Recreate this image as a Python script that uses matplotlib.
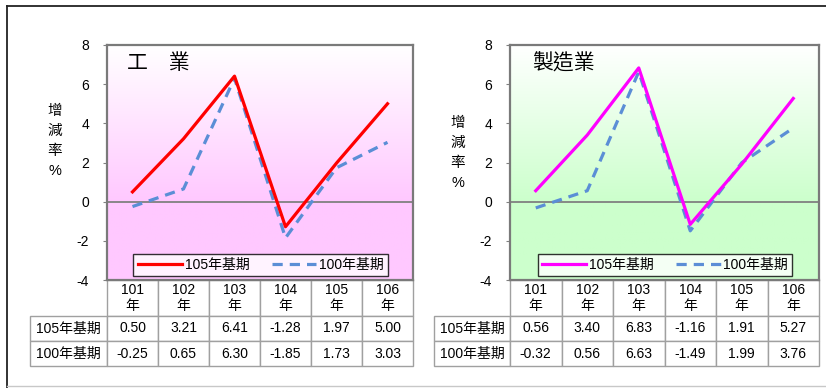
import numpy as np
import matplotlib
matplotlib.use('Agg')
import matplotlib.pyplot as plt
from matplotlib.colors import to_rgb
from matplotlib.lines import Line2D

plt.rcParams['font.family'] = ['Liberation Sans', 'Noto Sans CJK TC']
plt.rcParams['axes.unicode_minus'] = False

years = ['101\n年', '102\n年', '103\n年', '104\n年', '105\n年', '106\n年']
series_names = ['105年基期', '100年基期']

ind_105 = [0.50, 3.21, 6.41, -1.28, 1.97, 5.00]
ind_100 = [-0.25, 0.65, 6.30, -1.85, 1.73, 3.03]
mfg_105 = [0.56, 3.40, 6.83, -1.16, 1.91, 5.27]
mfg_100 = [-0.32, 0.56, 6.63, -1.49, 1.99, 3.76]

W, H = 826, 388
fig = plt.figure(figsize=(W / 100, H / 100), dpi=100)


def px_axes(x0, y0, x1, y1):
    return fig.add_axes([x0 / W, 1 - y1 / H, (x1 - x0) / W, (y1 - y0) / H])


def gradient_bg(ax, color):
    # white at the top fading to the fill colour at the zero line
    c = np.array(to_rgb(color))
    yy = np.linspace(8, -4, 240)
    t = np.clip((8 - yy) / 8.0, 0, 1)[:, None]
    img = (1 - t) * np.ones(3) + t * c
    img = np.repeat(img[:, None, :], 2, axis=1)
    ax.imshow(img, extent=[-0.5, 5.5, -4, 8], aspect='auto', zorder=0,
              interpolation='bilinear')


def panel(x0, x1, lab_x0, title, title_pos, ylab_y, fill, solid_color, v105, v100):
    ax = px_axes(x0, 45, x1, 280)
    gradient_bg(ax, fill)
    x = np.arange(len(years))
    ax.axhline(0, color='#808080', lw=1.3, zorder=1)
    ax.plot(x, v105, color=solid_color, lw=2.3, zorder=3, label=series_names[0])
    ax.plot(x, v100, color='#5B8ED6', lw=2.3, ls=(0, (3.2, 2.2)), zorder=2,
            label=series_names[1])
    ax.set_xlim(-0.5, 5.5)
    ax.set_ylim(-4, 8)
    ax.set_yticks(range(-4, 9, 2))
    ax.tick_params(axis='y', labelsize=10, length=3, width=0.8, color='#808080', pad=10)
    ax.set_xticks([])
    for s in ax.spines.values():
        s.set_color('#7a7a7a')
        s.set_linewidth(1.6)
    ax.text(title_pos, 0.965, title, transform=ax.transAxes, fontsize=15,
            va='top', ha='left')
    ax.text(-0.17, ylab_y, '增\n減\n率\n%', transform=ax.transAxes, fontsize=10.5,
            ha='center', va='center', linespacing=1.55)
    leg = ax.legend(loc='lower center', bbox_to_anchor=(0.502, 0.0), ncol=2,
                    fontsize=10, frameon=True, fancybox=False, borderpad=0.3,
                    borderaxespad=0.3, handlelength=3.2, columnspacing=1.6,
                    handletextpad=0.2)
    leg.get_frame().set_edgecolor('black')
    leg.get_frame().set_linewidth(1.0)

    # data table under the plot; bbox covers the value columns only,
    # the row-label column hangs off to the left
    w = x1 - x0
    cells = [[f'{v:.2f}' for v in v105], [f'{v:.2f}' for v in v100]]
    tb = ax.table(cellText=cells, rowLabels=series_names, colLabels=years,
                  cellLoc='center', rowLoc='center',
                  bbox=[0, -86 / 235, 1, 86 / 235])
    tb._autoColumns = []
    tb.auto_set_font_size(False)
    tb.set_fontsize(10)
    for (r, c), cell in tb.get_celld().items():
        cell.set_edgecolor('#a0a0a0')
        cell.set_linewidth(1.0)
        cell.set_height((36 if r == 0 else 25) / 235)
        cell.set_width((x0 - lab_x0) / w if c == -1 else 1 / 6)
        cell.set_facecolor('white')
        cell.PAD = 0.02
        if r == 0:
            cell.get_text().set_linespacing(1.2)
    return ax


panel(107, 413, 30, '工　業', 0.065, 0.59, '#FFC8FF', '#FF0000', ind_105, ind_100)
panel(510, 819, 434, '製造業', 0.072, 0.54, '#CCFFCC', '#FF00FF', mfg_105, mfg_100)

# outer frame
fig.add_artist(Line2D([7 / W, 1], [1 - 6 / H, 1 - 6 / H], transform=fig.transFigure,
                      color='#222222', lw=1.3))
fig.add_artist(Line2D([7 / W, 7 / W], [1 - 6 / H, 0], transform=fig.transFigure,
                      color='#222222', lw=1.3))
fig.add_artist(Line2D([7 / W, 1], [1 - 386 / H, 1 - 386 / H], transform=fig.transFigure,
                      color='#c8c8c8', lw=1.0))

fig.savefig('out.png', dpi=100)
